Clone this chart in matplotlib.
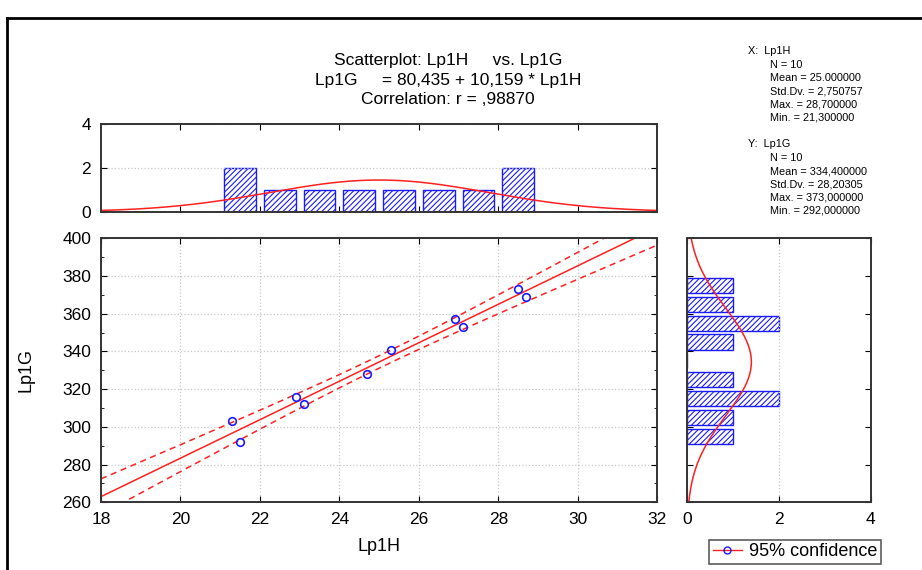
import matplotlib
matplotlib.use("Agg")
import matplotlib.pyplot as plt
import numpy as np
from matplotlib.lines import Line2D

plt.rcParams['font.family'] = ['Liberation Sans', 'DejaVu Sans']
plt.rcParams['hatch.linewidth'] = 0.8

lp1h = [21.3, 21.5, 22.9, 23.1, 24.7, 25.3, 26.9, 27.1, 28.5, 28.7]
lp1g = [303, 292, 316, 312, 328, 341, 357, 353, 373, 369]

# histogram bins
x_bins = [21, 22, 23, 24, 25, 26, 27, 28, 29]
y_bins = [290, 300, 310, 320, 330, 340, 350, 360, 370, 380]

title_lines = ["Scatterplot: Lp1H     vs. Lp1G",
               "Lp1G     = 80,435 + 10,159 * Lp1H",
               "Correlation: r = ,98870"]
x_stats = ["N = 10", "Mean = 25.000000", "Std.Dv. = 2,750757",
           "Max. = 28,700000", "Min. = 21,300000"]
y_stats = ["N = 10", "Mean = 334,400000", "Std.Dv. = 28,20305",
           "Max. = 373,000000", "Min. = 292,000000"]

x = np.array(lp1h)
y = np.array(lp1g)
n = len(x)
slope, icpt = np.polyfit(x, y, 1)
resid = y - (icpt + slope * x)
s = np.sqrt(np.sum(resid ** 2) / (n - 2))
sxx = np.sum((x - x.mean()) ** 2)
t = 2.306  # t(0.975, 8)

fig = plt.figure(figsize=(9.22, 5.70), dpi=100)

# outer frame (only top and left edges show)
fig.add_artist(Line2D([7 / 922, 7 / 922], [0, 1 - 18 / 570], color='black', lw=2, transform=fig.transFigure))
fig.add_artist(Line2D([7 / 922, 1], [1 - 18 / 570, 1 - 18 / 570], color='black', lw=2, transform=fig.transFigure))

ax = fig.add_axes([0.1095, 0.1188, 0.6034, 0.4632])
ax_top = fig.add_axes([0.1095, 0.6286, 0.6034, 0.1533])
ax_r = fig.add_axes([0.7448, 0.1188, 0.1996, 0.4632])

red = '#ff2020'
blue = '#1a1aff'

# main scatter with fit and 95% band
xs = np.linspace(18, 32, 200)
fit = icpt + slope * xs
band = t * s * np.sqrt(1 / n + (xs - x.mean()) ** 2 / sxx)
ax.plot(xs, fit, color=red, lw=1.1)
ax.plot(xs, fit + band, color=red, lw=1.1, dashes=(4, 3))
ax.plot(xs, fit - band, color=red, lw=1.1, dashes=(4, 3))
ax.plot(x, y, 'o', mfc='none', mec=blue, mew=1.2, ms=5.5)
ax.set_xlim(18, 32)
ax.set_ylim(260, 400)
ax.set_xticks(np.arange(18, 33, 2))
ax.set_yticks(np.arange(260, 401, 20))
ax.set_yticks(np.arange(270, 400, 20), minor=True)
ax.grid(True, color='#c8c8c8', ls=':', lw=0.9)
ax.set_xlabel("Lp1H", fontsize=13, labelpad=8)
ax.set_ylabel("Lp1G", fontsize=13, labelpad=20)

# top histogram of Lp1H
cnt, edges = np.histogram(x, bins=x_bins)
centers = (edges[:-1] + edges[1:]) / 2
ax_top.bar(centers, cnt, width=0.8, color='white', edgecolor=blue, hatch='//////', lw=1)
xn = np.linspace(18, 32, 200)
sd = x.std(ddof=1)
ax_top.plot(xn, n * 1 * np.exp(-(xn - x.mean()) ** 2 / (2 * sd ** 2)) / (sd * np.sqrt(2 * np.pi)), color=red, lw=1.1)
ax_top.set_xlim(18, 32)
ax_top.set_ylim(0, 4)
ax_top.set_yticks([0, 2, 4])
ax_top.set_xticks(np.arange(20, 31, 2))
ax_top.set_xticklabels([])
ax_top.grid(True, axis='y', color='#c8c8c8', ls=':', lw=0.9)

# right histogram of Lp1G
cnt_y, edges_y = np.histogram(y, bins=y_bins)
centers_y = (edges_y[:-1] + edges_y[1:]) / 2
ax_r.barh(centers_y, cnt_y, height=8, color='white', edgecolor=blue, hatch='//////', lw=1)
yn = np.linspace(260, 400, 200)
sdy = y.std(ddof=1)
ax_r.plot(n * 10 * np.exp(-(yn - y.mean()) ** 2 / (2 * sdy ** 2)) / (sdy * np.sqrt(2 * np.pi)), yn, color=red, lw=1.1)
ax_r.set_xlim(0, 4)
ax_r.set_ylim(260, 400)
ax_r.set_xticks([0, 2, 4])
ax_r.set_yticks(np.arange(260, 401, 20))
ax_r.set_yticklabels([])
ax_r.grid(True, axis='x', color='#c8c8c8', ls=':', lw=0.9)

for a in (ax, ax_top, ax_r):
    for sp in a.spines.values():
        sp.set_color('#333333')
        sp.set_linewidth(1.4)
    a.tick_params(direction='in', top=True, right=True, labelsize=12.5, length=4, pad=7)
    a.tick_params(which='minor', direction='in', length=2, right=True)

# titles and stats text
for i, line in enumerate(title_lines):
    fig.text(448 / 922, 1 - (60 + i * 20) / 570, line, ha='center', va='center', fontsize=12.5)

fig.text(748 / 922, 1 - 51 / 570, "X:  Lp1H", fontsize=7.8, va='center')
for i, line in enumerate(x_stats):
    fig.text(770 / 922, 1 - (65 + i * 13.2) / 570, line, fontsize=7.8, va='center')
fig.text(748 / 922, 1 - 144 / 570, "Y:  Lp1G", fontsize=7.8, va='center')
for i, line in enumerate(y_stats):
    fig.text(770 / 922, 1 - (158 + i * 13.2) / 570, line, fontsize=7.8, va='center')

# legend
h = Line2D([], [], color=red, lw=1, marker='o', mfc='none', mec=blue, ms=5)
leg = fig.legend([h], ["95% confidence"], loc='center', bbox_to_anchor=(795 / 922, 1 - 552 / 570),
                 fontsize=13, frameon=True, fancybox=False, handlelength=1.6, handletextpad=0.4,
                 borderpad=0.2, borderaxespad=0)
leg.get_frame().set_edgecolor('#333333')
leg.get_frame().set_linewidth(1.2)

fig.savefig("out.png", dpi=100)
